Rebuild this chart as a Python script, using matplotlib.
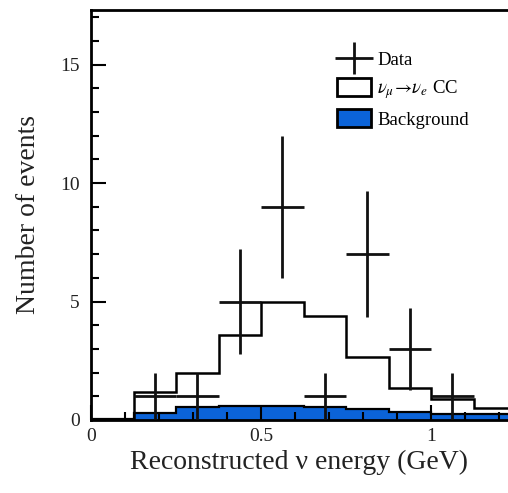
import numpy as np
import matplotlib
matplotlib.use("Agg")
import matplotlib.pyplot as plt
from matplotlib.ticker import MultipleLocator
from matplotlib.legend_handler import HandlerErrorbar

plt.rcParams['font.family'] = ['Liberation Serif', 'DejaVu Serif']
plt.rcParams['mathtext.fontset'] = 'stix'

# bins (GeV) and contents
bin_edges = [0.0, 0.125, 0.25, 0.375, 0.5, 0.625, 0.75, 0.875, 1.0, 1.125, 1.25]
total_mc = [0.05, 1.2, 2.0, 3.6, 5.0, 4.4, 2.65, 1.35, 0.9, 0.5]
background = [0.05, 0.3, 0.55, 0.6, 0.6, 0.55, 0.45, 0.35, 0.25, 0.25]

data_x = [0.1875, 0.3125, 0.4375, 0.5625, 0.6875, 0.8125, 0.9375, 1.0625]
data_n = [1, 1, 5, 9, 1, 7, 3, 1]

fig = plt.figure(figsize=(5.08, 4.93), dpi=100)
ax = fig.add_axes([91 / 508, 73 / 493, 417 / 508, 410 / 493])

blue = '#0b63d8'
ax.stairs(background, bin_edges, fill=True, color=blue, zorder=1)
ax.stairs(background, bin_edges, color='black', lw=1.6, zorder=2)
ax.stairs(total_mc, bin_edges, color='black', lw=1.8, zorder=3)

xerr = np.full(len(data_x), 0.0625)
yerr = np.sqrt(data_n)
dat_h = ax.errorbar(data_x, data_n, xerr=xerr, yerr=yerr, fmt='none',
                    ecolor='#111111', elinewidth=2.0, capsize=0, zorder=4)

ax.set_xlim(0, 1.226)
ax.set_ylim(0, 17.3)
ax.xaxis.set_major_locator(MultipleLocator(0.5))
ax.xaxis.set_minor_locator(MultipleLocator(0.1))
ax.yaxis.set_major_locator(MultipleLocator(5))
ax.yaxis.set_minor_locator(MultipleLocator(1))
ax.xaxis.set_major_formatter(plt.FuncFormatter(lambda v, p: f'{v:g}'))
ax.tick_params(which='both', direction='in', top=False, right=False,
               labelsize=14, labelcolor='#222222', width=1.5, zorder=5)
ax.tick_params(which='major', length=11)
ax.tick_params(which='minor', length=6)
ax.tick_params(axis='x', pad=6)
ax.tick_params(axis='y', pad=8)
ax.set_axisbelow(False)
for side in ['left', 'bottom', 'top']:
    ax.spines[side].set_linewidth(2)
ax.spines['right'].set_visible(False)

ax.set_xlabel('Reconstructed ν energy (GeV)', fontsize=20, color='#222222', labelpad=3)
ax.set_ylabel('Number of events', fontsize=20, color='#222222', labelpad=14)

sig_box = plt.Rectangle((0, 0), 1, 1, facecolor='white', edgecolor='black', lw=2)
bkg_box = plt.Rectangle((0, 0), 1, 1, facecolor=blue, edgecolor='black', lw=2)
ax.legend([dat_h, sig_box, bkg_box],
          ['Data', r'$\nu_\mu\!\rightarrow\!\nu_e$ CC', 'Background'],
          loc='upper left', bbox_to_anchor=(320 / 508, 1 - 33 / 493),
          bbox_transform=fig.transFigure, frameon=False, fontsize=13.5,
          handlelength=1.8, handleheight=1.1, labelspacing=0.45, handletextpad=0.35,
          handler_map={type(dat_h): HandlerErrorbar(xerr_size=1.0, yerr_size=0.85)})

fig.savefig('out.png', dpi=100)
